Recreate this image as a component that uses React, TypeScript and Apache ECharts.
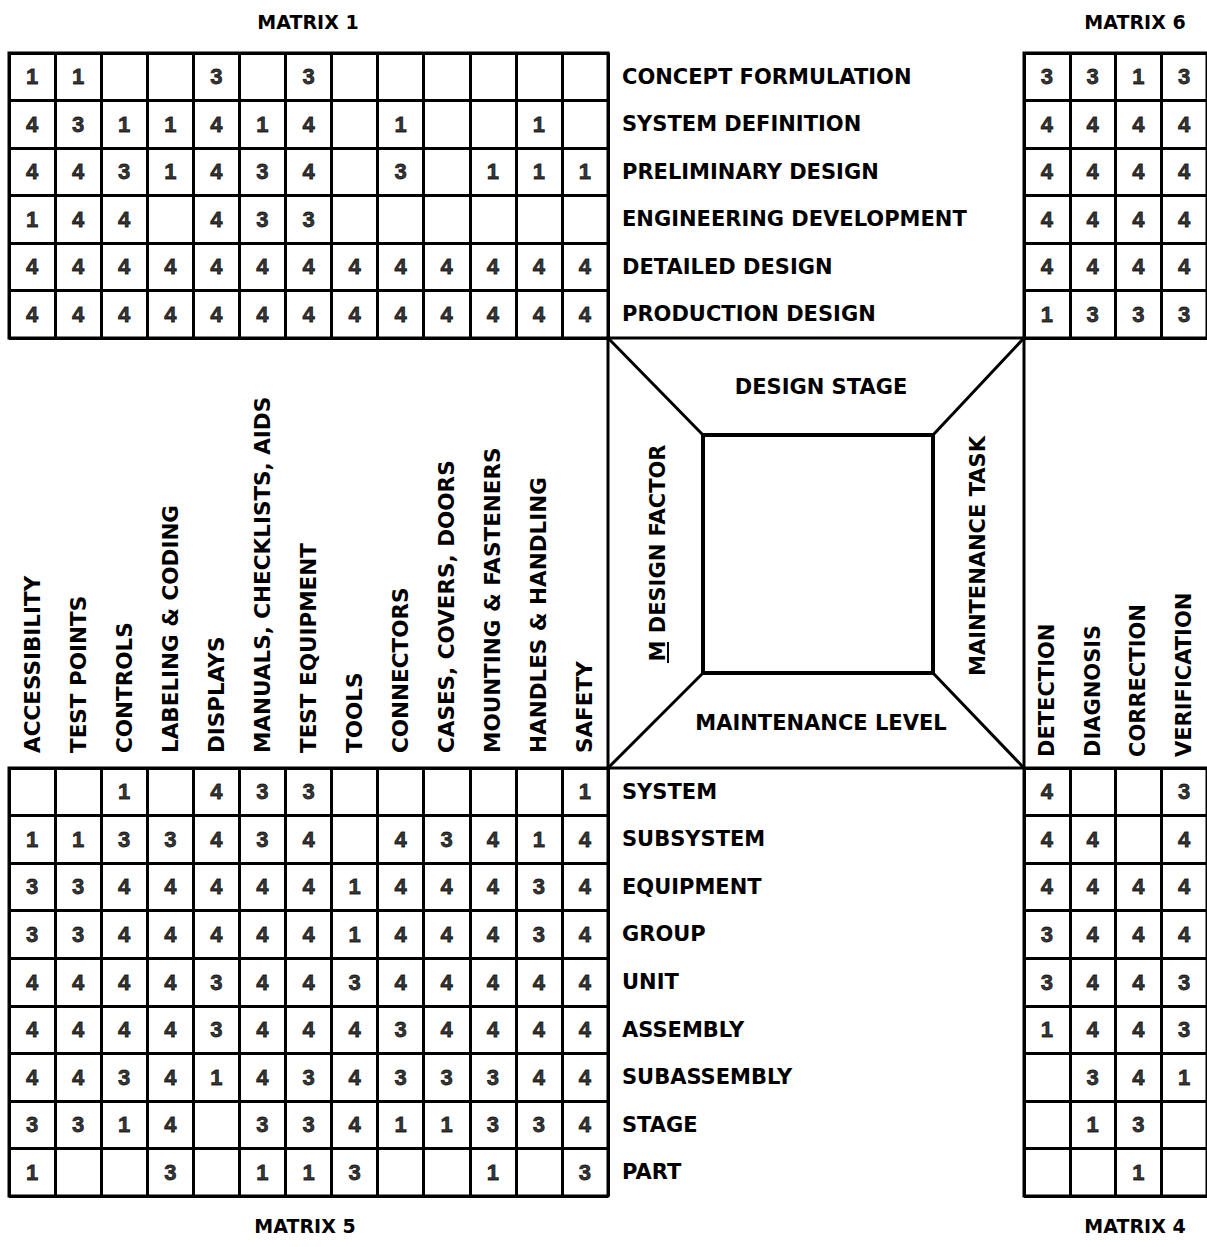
import React, { useEffect, useRef } from "react";
import * as echarts from "echarts";

const factors = [
  "ACCESSIBILITY",
  "TEST POINTS",
  "CONTROLS",
  "LABELING & CODING",
  "DISPLAYS",
  "MANUALS, CHECKLISTS, AIDS",
  "TEST EQUIPMENT",
  "TOOLS",
  "CONNECTORS",
  "CASES, COVERS, DOORS",
  "MOUNTING & FASTENERS",
  "HANDLES & HANDLING",
  "SAFETY",
];

const stages = [
  "CONCEPT FORMULATION",
  "SYSTEM DEFINITION",
  "PRELIMINARY DESIGN",
  "ENGINEERING DEVELOPMENT",
  "DETAILED DESIGN",
  "PRODUCTION DESIGN",
];

const levels = [
  "SYSTEM",
  "SUBSYSTEM",
  "EQUIPMENT",
  "GROUP",
  "UNIT",
  "ASSEMBLY",
  "SUBASSEMBLY",
  "STAGE",
  "PART",
];

const tasks = ["DETECTION", "DIAGNOSIS", "CORRECTION", "VERIFICATION"];

const _ = null;

// Matrix 1: design stage x design factor
const matrix1 = [
  [1, 1, _, _, 3, _, 3, _, _, _, _, _, _],
  [4, 3, 1, 1, 4, 1, 4, _, 1, _, _, 1, _],
  [4, 4, 3, 1, 4, 3, 4, _, 3, _, 1, 1, 1],
  [1, 4, 4, _, 4, 3, 3, _, _, _, _, _, _],
  [4, 4, 4, 4, 4, 4, 4, 4, 4, 4, 4, 4, 4],
  [4, 4, 4, 4, 4, 4, 4, 4, 4, 4, 4, 4, 4],
];

// Matrix 6: design stage x maintenance task
const matrix6 = [
  [3, 3, 1, 3],
  [4, 4, 4, 4],
  [4, 4, 4, 4],
  [4, 4, 4, 4],
  [4, 4, 4, 4],
  [1, 3, 3, 3],
];

// Matrix 5: maintenance level x design factor
const matrix5 = [
  [_, _, 1, _, 4, 3, 3, _, _, _, _, _, 1],
  [1, 1, 3, 3, 4, 3, 4, _, 4, 3, 4, 1, 4],
  [3, 3, 4, 4, 4, 4, 4, 1, 4, 4, 4, 3, 4],
  [3, 3, 4, 4, 4, 4, 4, 1, 4, 4, 4, 3, 4],
  [4, 4, 4, 4, 3, 4, 4, 3, 4, 4, 4, 4, 4],
  [4, 4, 4, 4, 3, 4, 4, 4, 3, 4, 4, 4, 4],
  [4, 4, 3, 4, 1, 4, 3, 4, 3, 3, 3, 4, 4],
  [3, 3, 1, 4, _, 3, 3, 4, 1, 1, 3, 3, 4],
  [1, _, _, 3, _, 1, 1, 3, _, _, 1, _, 3],
];

// Matrix 4: maintenance level x maintenance task
const matrix4 = [
  [4, _, _, 3],
  [4, 4, _, 4],
  [4, 4, 4, 4],
  [3, 4, 4, 4],
  [3, 4, 4, 3],
  [1, 4, 4, 3],
  [_, 3, 4, 1],
  [_, 1, 3, _],
  [_, _, 1, _],
];

const matrixTitles = ["MATRIX 1", "MATRIX 6", "MATRIX 5", "MATRIX 4"];
const centerTitles = ["DESIGN STAGE", "MAINTENANCE LEVEL", "M DESIGN FACTOR", "MAINTENANCE TASK"];

const LABEL_FONT = "DejaVu Sans";
const DIGIT_FONT = "Liberation Sans";

function toPoints(m: (number | null)[][]) {
  const out: number[][] = [];
  m.forEach((row, r) =>
    row.forEach((v, c) => {
      if (v !== null && v !== undefined) out.push([c, r, v]);
    })
  );
  return out;
}

export default function App() {
  const ref = useRef<HTMLDivElement>(null);

  useEffect(() => {
    if (!ref.current) return;
    const chart = echarts.init(ref.current, undefined, { renderer: "svg" });

    const lineStyle = { color: "#000", width: 3 };
    const gridBase = {
      show: true,
      borderColor: "#000",
      borderWidth: 3,
      backgroundColor: "transparent",
      containLabel: false,
    };
    const hiddenCat = (data: string[], gridIndex: number, extra: any = {}) => ({
      type: "category",
      data,
      gridIndex,
      boundaryGap: true,
      axisLine: { show: false },
      axisTick: { show: false },
      axisLabel: { show: false },
      splitLine: { show: true, interval: 0, lineStyle },
      ...extra,
    });
    const labelStyle = {
      show: true,
      interval: 0,
      color: "#000",
      fontFamily: LABEL_FONT,
      fontWeight: "bold",
      fontSize: 21,
    };

    const digitSeries = (m: (number | null)[][], idx: number) => ({
      type: "scatter",
      xAxisIndex: idx,
      yAxisIndex: idx,
      symbolSize: 1,
      itemStyle: { color: "transparent" },
      silent: true,
      data: toPoints(m),
      label: {
        show: true,
        position: "inside",
        formatter: (p: any) => String(p.value[2]),
        color: "#000",
        fontFamily: DIGIT_FONT,
        fontWeight: "bold",
        fontSize: 22,
        textBorderColor: "#000",
        textBorderWidth: 0.8,
      },
    });

    const txt = (text: string, x: number, y: number, size: number, rotation = 0) => ({
      type: "text",
      x,
      y,
      rotation,
      silent: true,
      style: {
        text,
        align: "center",
        verticalAlign: "middle",
        fill: "#000",
        fontFamily: LABEL_FONT,
        fontWeight: "bold",
        fontSize: size,
      },
    });
    const ln = (x1: number, y1: number, x2: number, y2: number, w = 3) => ({
      type: "line",
      silent: true,
      shape: { x1, y1, x2, y2 },
      style: { stroke: "#000", lineWidth: w },
    });

    const option: any = {
      animation: false,
      backgroundColor: "#fff",
      grid: [
        { ...gridBase, left: 9, top: 53, width: 599, height: 285 },
        { ...gridBase, left: 1024, top: 53, width: 187, height: 285 },
        { ...gridBase, left: 9, top: 768, width: 599, height: 428 },
        { ...gridBase, left: 1024, top: 768, width: 187, height: 428 },
      ],
      xAxis: [
        hiddenCat(factors, 0),
        hiddenCat(tasks, 1),
        hiddenCat(factors, 2, {
          position: "top",
          axisLabel: { ...labelStyle, fontSize: 21.5, rotate: -90, margin: 15 },
        }),
        hiddenCat(tasks, 3, {
          position: "top",
          axisLabel: { ...labelStyle, rotate: -90, margin: 11 },
        }),
      ],
      yAxis: [
        hiddenCat(stages, 0, {
          inverse: true,
          position: "right",
          axisLabel: { ...labelStyle, margin: 14 },
        }),
        hiddenCat(stages, 1, { inverse: true }),
        hiddenCat(levels, 2, {
          inverse: true,
          position: "right",
          axisLabel: { ...labelStyle, margin: 14 },
        }),
        hiddenCat(levels, 3, { inverse: true }),
      ],
      series: [
        digitSeries(matrix1, 0),
        digitSeries(matrix6, 1),
        digitSeries(matrix5, 2),
        digitSeries(matrix4, 3),
      ],
      graphic: [
        // center diagram
        {
          type: "rect",
          silent: true,
          shape: { x: 608, y: 338, width: 416, height: 430 },
          style: { fill: "none", stroke: "#000", lineWidth: 3 },
        },
        {
          type: "rect",
          silent: true,
          shape: { x: 703, y: 435, width: 230, height: 238 },
          style: { fill: "none", stroke: "#000", lineWidth: 4 },
        },
        ln(608, 338, 703, 435),
        ln(1024, 338, 933, 435),
        ln(608, 768, 703, 673),
        ln(1024, 768, 933, 673),
        txt(centerTitles[0], 821, 387, 21),
        txt(centerTitles[1], 821, 723, 21),
        txt(centerTitles[2], 658, 553, 21, Math.PI / 2),
        ln(668, 642, 668, 663, 2),
        txt(centerTitles[3], 978, 556, 21, Math.PI / 2),
        // matrix titles
        txt(matrixTitles[0], 308, 22, 19),
        txt(matrixTitles[1], 1135, 22, 19),
        txt(matrixTitles[2], 305, 1226, 19),
        txt(matrixTitles[3], 1135, 1226, 19),
      ],
    };

    chart.setOption(option);
    return () => chart.dispose();
  }, []);

  return (
    <div
      ref={ref}
      style={{
        position: "absolute",
        left: 0,
        top: 0,
        width: 1207,
        height: 1247,
        background: "#fff",
      }}
    />
  );
}
